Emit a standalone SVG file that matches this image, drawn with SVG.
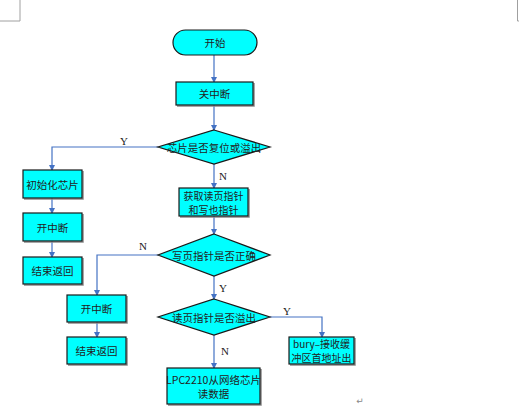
<svg xmlns="http://www.w3.org/2000/svg" width="519" height="415" viewBox="0 0 519 415">
<style>
.box{fill:#00FFFF;stroke:#1a1a1a;stroke-width:1.2}
.sh{fill:none;stroke:#8a8a8a;stroke-width:1.5}
.t{font-family:"Noto Sans CJK SC","Liberation Serif",serif;font-size:10.5px;fill:#222;text-anchor:middle;dominant-baseline:central}
.t2{font-family:"Noto Sans CJK SC","Liberation Serif",serif;font-size:10px;fill:#222;text-anchor:middle;dominant-baseline:central}
.l{font-family:"Liberation Serif",serif;font-size:11px;fill:#222;text-anchor:middle;dominant-baseline:central}
.c{fill:none;stroke:#4472C4;stroke-width:1.2}
.corner{fill:none;stroke:#a0a0a0;stroke-width:1}
</style>
<defs>
<marker id="a" markerWidth="6" markerHeight="6" refX="5" refY="3" orient="auto" markerUnits="userSpaceOnUse">
<path d="M0,0 L6,3 L0,6 Z" fill="#4472C4"/>
</marker>
</defs>
<rect width="519" height="415" fill="#fff"/>
<path class="corner" d="M20,0 V21 H0 M517.5,0 V21 H519"/>
<g id="connectors">
<path class="c" d="M214,55 V82" marker-end="url(#a)"/>
<path class="c" d="M214,105 V130" marker-end="url(#a)"/>
<path class="c" d="M158,147 H52 V170" marker-end="url(#a)"/>
<path class="c" d="M52,198 V213" marker-end="url(#a)"/>
<path class="c" d="M52,241 V257" marker-end="url(#a)"/>
<path class="c" d="M214,164 V188" marker-end="url(#a)"/>
<path class="c" d="M214,216 V234" marker-end="url(#a)"/>
<path class="c" d="M158,255 H97 V295" marker-end="url(#a)"/>
<path class="c" d="M97,322 V337" marker-end="url(#a)"/>
<path class="c" d="M214,276 V299" marker-end="url(#a)"/>
<path class="c" d="M270,317 H322 V337" marker-end="url(#a)"/>
<path class="c" d="M214,335 V368" marker-end="url(#a)"/>
<text class="l" x="124" y="141">Y</text>
<text class="l" x="223" y="176">N</text>
<text class="l" x="143" y="246">N</text>
<text class="l" x="223" y="288">Y</text>
<text class="l" x="287" y="311">Y</text>
<text class="l" x="225" y="351">N</text>
</g>
<g id="start">
<rect class="box" x="173" y="30" width="84" height="25" rx="12.5"/>
<text class="t" x="215" y="42.5">开始</text>
</g>
<g id="close-int">
<path class="sh" d="M254,83 V106 H177"/>
<rect class="box" x="176" y="82" width="77" height="23"/>
<text class="t" x="214.5" y="93.5">关中断</text>
</g>
<g id="dec1">
<polygon class="box" points="214,130 270,147 214,164 158,147"/>
<text class="t" x="214" y="147">芯片是否复位或溢出</text>
</g>
<g id="init">
<path class="sh" d="M83,171 V199 H24"/>
<rect class="box" x="23" y="170" width="59" height="28"/>
<text class="t" x="52.5" y="184">初始化芯片</text>
</g>
<g id="open-int1">
<path class="sh" d="M83,214 V242 H24"/>
<rect class="box" x="23" y="213" width="59" height="28"/>
<text class="t" x="52.5" y="227">开中断</text>
</g>
<g id="end1">
<path class="sh" d="M83,258 V285 H24"/>
<rect class="box" x="23" y="257" width="59" height="27"/>
<text class="t" x="52.5" y="270.5">结束返回</text>
</g>
<g id="get-ptr">
<path class="sh" d="M249,189 V217 H180"/>
<rect class="box" x="179" y="188" width="69" height="28"/>
<text class="t2" x="213.5" y="195">获取读页指针</text>
<text class="t2" x="213.5" y="209">和写也指针</text>
</g>
<g id="dec2">
<polygon class="box" points="214,234 270,255 214,276 158,255"/>
<text class="t" x="214" y="255">写页指针是否正确</text>
</g>
<g id="open-int2">
<path class="sh" d="M127,296 V323 H68"/>
<rect class="box" x="67" y="295" width="59" height="27"/>
<text class="t" x="96.5" y="308.5">开中断</text>
</g>
<g id="end2">
<path class="sh" d="M127,338 V365 H68"/>
<rect class="box" x="67" y="337" width="59" height="27"/>
<text class="t" x="96.5" y="350.5">结束返回</text>
</g>
<g id="dec3">
<polygon class="box" points="214,299 270,317 214,335 158,317"/>
<text class="t" x="214" y="317">读页指针是否溢出</text>
</g>
<g id="bury">
<path class="sh" d="M355,338 V365 H290"/>
<rect class="box" x="289" y="337" width="65" height="27"/>
<text class="t2" x="321.5" y="343.5">bury–接收缓</text>
<text class="t2" x="321.5" y="357.5">冲区首地址出</text>
</g>
<g id="read">
<path class="sh" d="M261,369 V405 H168"/>
<rect class="box" x="167" y="368" width="93" height="36"/>
<text class="t" x="213.5" y="379">LPC2210从网络芯片</text>
<text class="t" x="213.5" y="393">读数据</text>
</g>
<text x="360" y="404" font-family="DejaVu Sans, sans-serif" font-size="9" fill="#888" text-anchor="middle">↵</text>
</svg>
